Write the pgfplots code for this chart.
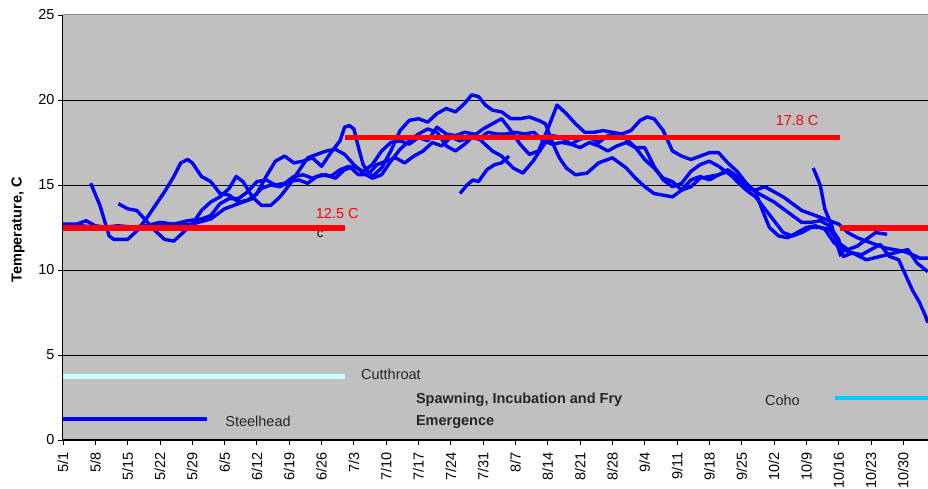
\documentclass[border=0pt]{standalone}
\usepackage{pgfplots}
\pgfplotsset{compat=1.18}
\usepackage{fontspec}
\setmainfont{Liberation Sans}
\definecolor{plotgray}{RGB}{192,192,192}
\definecolor{cutthroat}{RGB}{204,255,255}
\definecolor{coho}{RGB}{0,204,255}
\definecolor{topgray}{RGB}{140,140,140}
\newcommand{\tf}{\fontsize{14.5}{17}\selectfont}
\begin{document}
\begin{tikzpicture}[x=1pt,y=1pt]
\path[use as bounding box] (-63,-49) rectangle (865,440);
\begin{axis}[
  at={(0,0)}, anchor=south west,
  scale only axis, width=865pt, height=425pt,
  xmin=0, xmax=187.35, ymin=0, ymax=25,
  axis background/.style={fill=plotgray},
  axis x line*=bottom, axis y line*=left,
  axis line style={black, line width=1pt},
  ytick={0,5,10,15,20},
  extra y ticks={25}, extra y tick style={grid=none},
  ymajorgrids, grid style={black, line width=0.9pt},
  xtick={0,7,...,182},
  xticklabels={5/1,5/8,5/15,5/22,5/29,6/5,6/12,6/19,6/26,7/3,7/10,7/17,7/24,7/31,8/7,8/14,8/21,8/28,9/4,9/11,9/18,9/25,10/2,10/9,10/16,10/23,10/30},
  tick align=outside, major tick length=5pt,
  tick style={black, line width=0.9pt},
  /pgf/number format/assume math mode=true,
  ticklabel style={font=\tf},
  xticklabel shift=4pt,
  xticklabel style={rotate=90, anchor=east},
  ylabel={Temperature, C},
  ylabel style={font=\bfseries\tf, at={(axis description cs:-0.052,0.494)}, anchor=center},
  clip=true,
]
% blue temperature traces
\addplot[blue, line width=3.4pt, line join=round] coordinates {
(0,12.7) (3,12.7) (5,12.9) (7,12.6) (10,12.5) (14,12.5) (18,12.6) (21,12.8) (24,12.7) (27,12.9) (30,13.0) (32,13.2) (34,13.9) (36,14.2) (38,14.2) (40,14.6) (42,15.2) (44,15.3) (46,15.0) (48,15.1) (50,15.5) (52,15.6) (54,15.4) (56,15.6) (58,15.5) (60,15.9) (62,16.1) (64,15.6) (66,15.6) (68,16.2) (70,16.4) (72,16.6) (74,16.3) (76,16.7) (78,17.0) (80,17.5) (82,17.3) (84,17.8) (86,17.6) (88,17.8) (90,17.7) (92,18.1) (94,18.0) (96,18.0) (98,18.1) (100,18.0) (102,18.1) (104,17.6) (106,17.4) (108,17.5) (110,17.4) (112,17.7) (114,17.8) (116,17.5) (118,17.9) (120,18.0) (122,17.7) (124,17.2) (126,16.5) (128,16.0) (130,15.4) (132,15.2) (134,14.7) (136,14.9) (138,15.4) (140,15.5) (142,15.6) (144,15.9) (146,15.5) (148,15.0) (150,14.6) (152,14.3) (154,14.0) (156,13.6) (158,13.2) (160,12.8) (162,12.8) (164,12.9) (166,12.6) (168,11.8) (169,10.8) (171,11.0) (174,10.6) (177,10.8) (180,11.0) (183,11.2) (185,10.4) (187.3,9.9)
};
\addplot[blue, line width=3.4pt, line join=round] coordinates {
(6,15.1) (8,13.8) (10,12.0) (11,11.8) (14,11.8) (16,12.3) (18,13.0) (20,13.8) (22,14.6) (24,15.5) (25.5,16.3) (27,16.5) (28,16.3) (30,15.5) (32,15.2) (34,14.5) (36,14.4) (38,14.0) (40,14.1) (42,14.5) (44,15.5) (46,16.4) (48,16.7) (50,16.3) (52,16.4) (54,16.6) (56,16.1) (58,16.9) (60,17.6) (61,18.4) (62,18.5) (63,18.3) (64,17.2) (65,16.2) (66,15.8) (67,15.5) (69,16.0) (71,17.0) (73,18.2) (75,18.8) (77,18.9) (79,18.7) (81,19.2) (83,19.5) (85,19.3) (87,19.8) (88.5,20.3) (90,20.2) (91.5,19.7) (93,19.4) (95,19.3) (97,18.9) (99,18.9) (101,19.0) (103,18.8) (104.5,18.6) (106,17.5) (107.5,16.6) (109,16.0) (111,15.6) (113.5,15.7) (116,16.3) (119,16.6) (122,16.0) (124,15.4) (126,14.9) (128,14.5) (130,14.4) (132,14.3) (134,14.7) (136,15.3) (138,15.5) (140,15.3) (142,15.6) (144,15.8) (146,15.2) (148,14.7) (150,14.3) (152,13.6) (154,12.9) (156,12.2) (158,12.0) (160,12.2) (162,12.5) (164,12.5) (166,12.4) (168,11.6) (170,11.2) (172,11.4) (174,11.8) (176,12.2) (178.5,12.1)
};
\addplot[blue, line width=3.4pt, line join=round] coordinates {
(12,13.9) (14,13.6) (16,13.5) (18,12.9) (20,12.3) (22,11.8) (24,11.7) (26,12.2) (28,12.7) (30,13.5) (32,14.0) (34,14.3) (36,14.8) (37.5,15.5) (39,15.2) (41,14.3) (43,13.8) (45,13.8) (47,14.3) (49,15.0) (51,15.8) (53,16.6) (55,16.8) (57,17.0) (59,17.1) (61,16.8) (63,16.2) (65,15.7) (67,15.4) (69,15.6) (71,16.4) (73,17.1) (75,17.6) (77,18.0) (79,18.3) (81,18.1) (83,17.3) (85,17.0) (87,17.4) (89,17.9) (91,18.3) (93,18.6) (95,18.9) (97,18.2) (99,17.4) (101,16.8) (103,17.0) (105,18.3) (107,19.7) (109,19.2) (111,18.6) (113,18.1) (115,18.1) (117,18.2) (119,18.1) (121,18.0) (123,18.2) (125,18.8) (126.5,19.0) (128,18.9) (130,18.2) (132,17.0) (134,16.7) (136,16.5) (138,16.7) (140,16.9) (142,16.9) (144,16.3) (146,15.8) (148,15.1) (150,14.6) (151.5,13.5) (153,12.5) (155,12.0) (157,11.9) (159,12.2) (161,12.5) (163,12.6) (165,12.4) (167,11.6) (169,11.2) (171,11.0) (173,10.9) (175,11.2) (177,11.5) (179,10.8) (181,10.6) (183,9.4) (184,8.8) (185.5,8.1) (186.8,7.3) (187.3,6.9)
};
\addplot[blue, line width=3.4pt, line join=round] coordinates {
(0,12.6) (4,12.6) (8,12.5) (12,12.6) (16,12.5) (20,12.6) (24,12.6) (28,12.7) (32,13.0) (35,13.6) (38,13.9) (41,14.2) (43,14.8) (45,15.0) (47,14.9) (49,15.2) (51,15.3) (53,15.1) (55,15.5) (57,15.6) (59,15.4) (61,15.9) (63,16.1) (65,15.8) (67,16.2) (69,17.0) (71,17.5) (73,17.6) (75,17.4) (77,17.8) (79,17.6) (81,18.4) (83,18.0) (85,17.9) (87,18.1) (89,18.0) (91,17.5) (93,17.0) (95,16.7) (97.5,16.0) (99.6,15.7) (101.8,16.4) (103,16.9) (104.5,17.5) (106,17.9) (108,17.8) (110,17.4) (112,17.2) (114,17.5) (116,17.3) (118,17.0) (120,17.3) (122,17.5) (124,17.2) (126,17.2) (128,16.1) (130,15.3) (132,14.9) (134,15.1) (136,15.8) (138,16.2) (140,16.4) (142,16.1) (144,15.7) (146,15.3) (148,14.8) (150,14.7) (152,14.9) (154,14.6) (156,14.3) (158,13.9) (160,13.5) (162,13.3) (164,13.1) (166,12.9) (168,12.7) (170,12.2) (172,11.9) (174,11.7) (176,11.5) (178,11.3) (180,11.2) (182,11.1) (184,10.9) (185.5,10.7) (187.3,10.7)
};
\addplot[blue, line width=3.4pt, line join=round] coordinates {
(86,14.5) (87.5,15.0) (88.8,15.3) (90,15.2) (91.8,15.9) (93.5,16.2) (95,16.3) (96.6,16.7)
};
\addplot[blue, line width=3.4pt, line join=round] coordinates {
(162.5,16.0) (164,15.0) (165,13.6) (166.5,12.6) (167.5,11.6) (168.5,10.8)
};
% small artifact
\node[font=\fontsize{13}{14}\selectfont, black] at (axis cs:55.7,12.1) {c};
% criteria lines
\addplot[red, line width=5.5pt] coordinates {(0,12.47) (61.1,12.47)};
\addplot[red, line width=5.5pt] coordinates {(61.1,17.8) (168.2,17.8)};
\addplot[red, line width=5.5pt] coordinates {(168.2,12.47) (187.35,12.47)};
% species periods
\addplot[cutthroat, line width=5pt] coordinates {(0,3.72) (61.1,3.72)};
\addplot[blue, line width=4pt] coordinates {(0,1.24) (31.2,1.24)};
\addplot[coho, line width=4.3pt] coordinates {(167.3,2.49) (187.35,2.49)};
% texts
\node[red, font=\tf, anchor=center] at (axis cs:59.4,13.35) {12.5 C};
\node[red, font=\tf, anchor=center] at (axis cs:159.0,18.82) {17.8 C};
\node[black!85, font=\tf, anchor=west] at (axis cs:63.8,3.88) {Cutthroat};
\node[black!85, font=\tf, anchor=west] at (axis cs:34.4,1.12) {Steelhead};
\node[black!85, font=\tf, anchor=west] at (axis cs:151.3,2.35) {Coho};
\node[black!85, font=\bfseries\tf, anchor=west] at (axis cs:75.7,2.35) {Spawning, Incubation and Fry};
\node[black!85, font=\bfseries\tf, anchor=west] at (axis cs:75.7,1.08) {Emergence};
\draw[topgray, line width=1pt] (axis cs:0,25) -- (axis cs:187.35,25);
\end{axis}
\end{tikzpicture}
\end{document}
